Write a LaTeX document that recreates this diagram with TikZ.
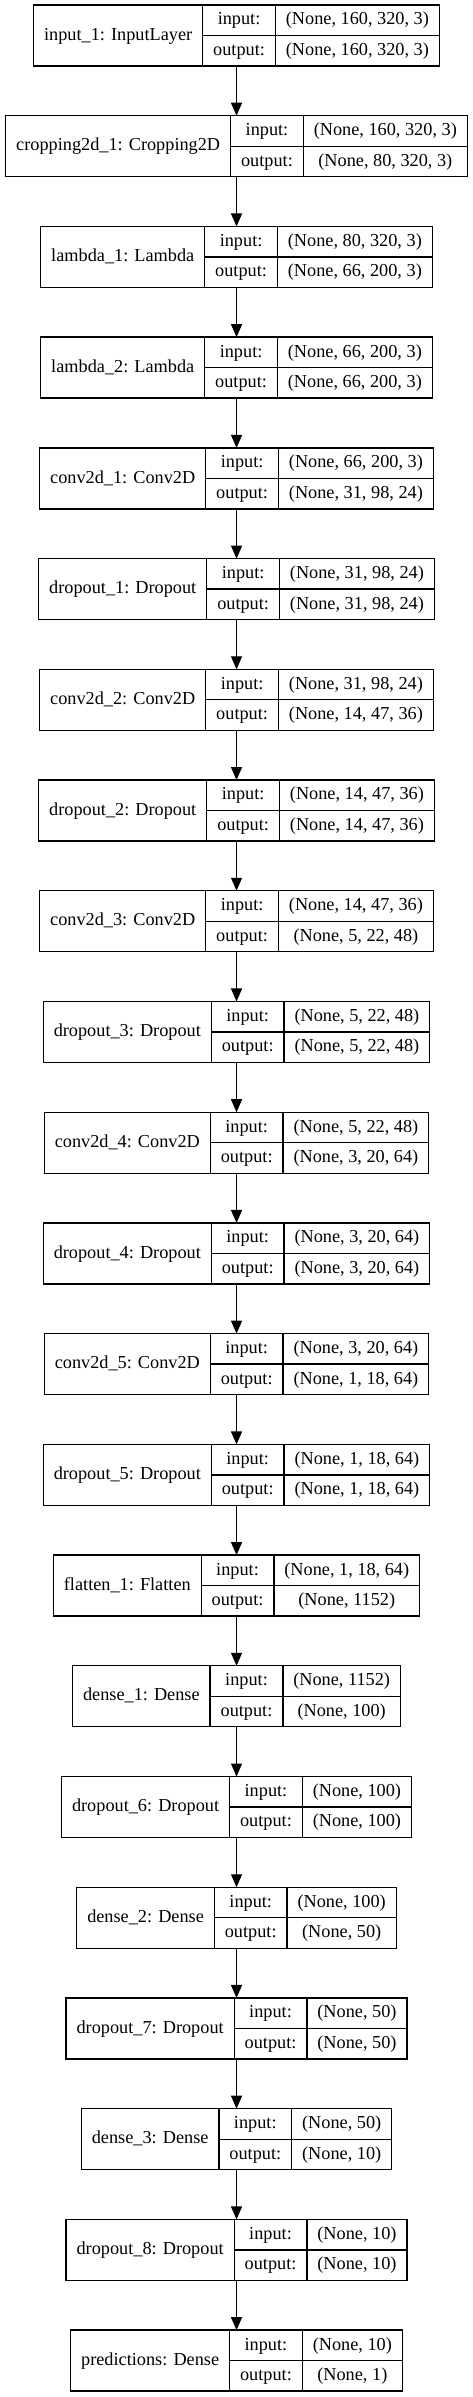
\documentclass[tikz,border=0pt]{standalone}
\usepackage{fontspec}
\setmainfont{Liberation Serif}
\usetikzlibrary{arrows.meta}

\newcommand\layerfont{\fontsize{13.7}{16}\selectfont}
\newcommand\cellpad{15.7pt}
\newlength\wname
\newlength\wport
\newlength\wshape
\newlength\wtmp

\newcommand\layerlist{
  {input\_1: InputLayer}/{(None, 160, 320, 3)}/{(None, 160, 320, 3)},
  {cropping2d\_1: Cropping2D}/{(None, 160, 320, 3)}/{(None, 80, 320, 3)},
  {lambda\_1: Lambda}/{(None, 80, 320, 3)}/{(None, 66, 200, 3)},
  {lambda\_2: Lambda}/{(None, 66, 200, 3)}/{(None, 66, 200, 3)},
  {conv2d\_1: Conv2D}/{(None, 66, 200, 3)}/{(None, 31, 98, 24)},
  {dropout\_1: Dropout}/{(None, 31, 98, 24)}/{(None, 31, 98, 24)},
  {conv2d\_2: Conv2D}/{(None, 31, 98, 24)}/{(None, 14, 47, 36)},
  {dropout\_2: Dropout}/{(None, 14, 47, 36)}/{(None, 14, 47, 36)},
  {conv2d\_3: Conv2D}/{(None, 14, 47, 36)}/{(None, 5, 22, 48)},
  {dropout\_3: Dropout}/{(None, 5, 22, 48)}/{(None, 5, 22, 48)},
  {conv2d\_4: Conv2D}/{(None, 5, 22, 48)}/{(None, 3, 20, 64)},
  {dropout\_4: Dropout}/{(None, 3, 20, 64)}/{(None, 3, 20, 64)},
  {conv2d\_5: Conv2D}/{(None, 3, 20, 64)}/{(None, 1, 18, 64)},
  {dropout\_5: Dropout}/{(None, 1, 18, 64)}/{(None, 1, 18, 64)},
  {flatten\_1: Flatten}/{(None, 1, 18, 64)}/{(None, 1152)},
  {dense\_1: Dense}/{(None, 1152)}/{(None, 100)},
  {dropout\_6: Dropout}/{(None, 100)}/{(None, 100)},
  {dense\_2: Dense}/{(None, 100)}/{(None, 50)},
  {dropout\_7: Dropout}/{(None, 50)}/{(None, 50)},
  {dense\_3: Dense}/{(None, 50)}/{(None, 10)},
  {dropout\_8: Dropout}/{(None, 10)}/{(None, 10)},
  {predictions: Dense}/{(None, 10)}/{(None, 1)}}

\tikzset{
  layer/.style={inner sep=0pt, outer sep=0pt, minimum height=45.75pt},
  cell/.style={draw, line width=1pt, font=\layerfont, inner xsep=7.85pt,
    inner ysep=0pt, outer sep=0pt, text height=9.5pt, text depth=2.5pt},
  namecell/.style={cell, minimum height=45.75pt},
  portcell/.style={cell, minimum height=22.875pt, minimum width=\wport},
  shapecell/.style={cell, minimum height=22.875pt},
  flow/.style={-{Triangle[length=9.75pt,width=8.25pt]}, line width=1pt}
}

\begin{document}
% widths of the record fields, measured outside the picture
\settowidth\wport{\layerfont output:}
\addtolength\wport{\cellpad}
\foreach \lab/\si/\so [count=\i from 0] in \layerlist {
  \settowidth\wname{\layerfont\lab}
  \settowidth\wshape{\layerfont\si}
  \settowidth\wtmp{\layerfont\so}
  \ifdim\wtmp>\wshape \setlength\wshape{\wtmp}\fi
  \addtolength\wshape{\cellpad}
  \expandafter\xdef\csname wshape\i\endcsname{\the\wshape}
  \expandafter\xdef\csname wbox\i\endcsname{\the\dimexpr\wname+\wport+\wshape+\cellpad\relax}
}
\begin{tikzpicture}
  \useasboundingbox (0,0) rectangle (354.75pt,-1797.75pt);
  \foreach \lab/\si/\so [count=\i from 0] in \layerlist {
    \edef\wbox{\csname wbox\i\endcsname}
    \edef\wsh{\csname wshape\i\endcsname}
    \node[layer, minimum width=\wbox, anchor=north] (L\i) at (177.4pt,{-3.75pt-\i*83.04pt}) {};
    \node[namecell, anchor=north west] (L\i-name) at (L\i.north west) {\lab};
    \node[portcell, anchor=north west] (L\i-in) at (L\i-name.north east) {input:};
    \node[portcell, anchor=north west] (L\i-out) at (L\i-in.south west) {output:};
    \node[shapecell, minimum width=\wsh, anchor=north west] (L\i-si) at (L\i-in.north east) {\si};
    \node[shapecell, minimum width=\wsh, anchor=north west] (L\i-so) at (L\i-si.south west) {\so};
  }
  \foreach \i [count=\j from 1] in {0,...,20}
    \draw[flow] (L\i.south) -- (L\j.north);
\end{tikzpicture}
\end{document}
